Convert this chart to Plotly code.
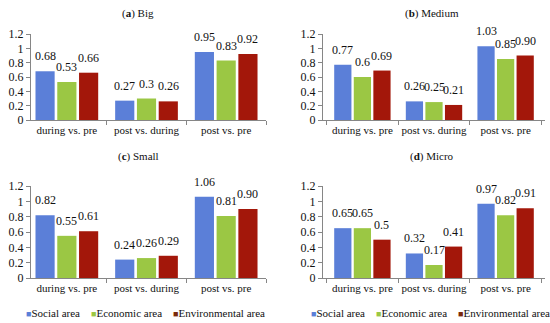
import plotly.graph_objects as go

categories = ["during vs. pre", "post vs. during", "post vs. pre"]
series_names = ["Social area", "Economic area", "Environmental area"]
panel_titles = ["(<b>a</b>) Big", "(<b>b</b>) Medium", "(<b>c</b>) Small", "(<b>d</b>) Micro"]

big_social = [0.68, 0.27, 0.95]
big_economic = [0.53, 0.30, 0.83]
big_environmental = [0.66, 0.26, 0.92]
big_labels = [["0.68", "0.27", "0.95"], ["0.53", "0.3", "0.83"], ["0.66", "0.26", "0.92"]]

medium_social = [0.77, 0.26, 1.03]
medium_economic = [0.60, 0.25, 0.85]
medium_environmental = [0.69, 0.21, 0.90]
medium_labels = [["0.77", "0.26", "1.03"], ["0.6", "0.25", "0.85"], ["0.69", "0.21", "0.90"]]

small_social = [0.82, 0.24, 1.06]
small_economic = [0.55, 0.26, 0.81]
small_environmental = [0.61, 0.29, 0.90]
small_labels = [["0.82", "0.24", "1.06"], ["0.55", "0.26", "0.81"], ["0.61", "0.29", "0.90"]]

micro_social = [0.65, 0.32, 0.97]
micro_economic = [0.65, 0.17, 0.82]
micro_environmental = [0.50, 0.41, 0.91]
micro_labels = [["0.65", "0.32", "0.97"], ["0.65", "0.17", "0.82"], ["0.5", "0.41", "0.91"]]

colors = ["#5B7FD8", "#9BC744", "#A3170A"]
legend_colors = ["#5B7FD8", "#9BC744", "#7B2A0C"]

panels = [
    (big_social, big_economic, big_environmental, big_labels),
    (medium_social, medium_economic, medium_environmental, medium_labels),
    (small_social, small_economic, small_environmental, small_labels),
    (micro_social, micro_economic, micro_environmental, micro_labels),
]

W, H = 550, 323
SERIF = "Liberation Serif, Times New Roman, serif"
BARGAP = 0.18

fig = go.Figure()

# pixel layout of each panel: (x0, x1, ytop, ybottom, xrange)
boxes = [
    (31, 266, 34, 120, [-0.45, 2.5]),
    (323, 545, 34, 120, [-0.55, 2.55]),
    (31, 266, 186, 278, [-0.45, 2.5]),
    (323, 545, 186, 278, [-0.55, 2.55]),
]
title_pos = [(138, 13), (432, 13), (138, 156), (432, 156)]
slot = (1 - BARGAP) / 3

for i, (soc, eco, env, labels) in enumerate(panels):
    xa = "x" if i == 0 else f"x{i+1}"
    ya = "y" if i == 0 else f"y{i+1}"
    for s, (vals, name) in enumerate(zip([soc, eco, env], series_names)):
        fig.add_trace(go.Bar(
            x=categories, y=vals, name=name,
            marker=dict(color=colors[s], line=dict(width=0)),
            xaxis=xa, yaxis=ya, showlegend=False,
        ))
        # value labels above each bar
        for c, (v, t) in enumerate(zip(vals, labels[s])):
            fig.add_annotation(text=t, x=c + (s - 1) * slot, y=v, xref=xa, yref=ya,
                               showarrow=False, yanchor="bottom", xanchor="center", yshift=6,
                               font=dict(family=SERIF, size=12, color="#111"))
    x0, x1, yt, yb, xr = boxes[i]
    axkey = "xaxis" if i == 0 else f"xaxis{i+1}"
    aykey = "yaxis" if i == 0 else f"yaxis{i+1}"
    fig.update_layout(**{
        axkey: dict(domain=[x0 / W, x1 / W], anchor=ya, type="category",
                    range=xr, showline=True, linecolor="#868686", linewidth=1,
                    ticks="outside", tickson="boundaries", ticklen=4, tickcolor="#868686",
                    tickangle=0, automargin=False,
                    tickfont=dict(family=SERIF, size=11, color="#111"),
                    showgrid=False, zeroline=False, fixedrange=True),
        aykey: dict(domain=[1 - yb / H, 1 - yt / H], anchor=xa, range=[0, 1.2],
                    dtick=0.2, tick0=0, showline=True, linecolor="#868686", linewidth=1,
                    ticks="outside", ticklen=4, tickcolor="#868686", automargin=False,
                    tickfont=dict(family=SERIF, size=12, color="#111"),
                    showgrid=False, zeroline=False, fixedrange=True),
    })
    tx, ty = title_pos[i]
    fig.add_annotation(text=panel_titles[i], x=tx / W, y=1 - ty / H, xref="paper", yref="paper",
                       showarrow=False, font=dict(family=SERIF, size=11, color="#111"),
                       xanchor="center", yanchor="middle")

# legends drawn as text rows below the bottom panels
legend_text = "&nbsp;&nbsp;&nbsp;&nbsp;".join(
    f"<span style='color:{c};font-size:9px'>■</span>{n}" for c, n in zip(legend_colors, series_names)
)
for lx in (145, 430):
    fig.add_annotation(text=legend_text, x=lx / W, y=1 - 313 / H, xref="paper", yref="paper",
                       showarrow=False, font=dict(family=SERIF, size=11, color="#111"),
                       xanchor="center", yanchor="middle")

fig.update_layout(
    width=W, height=H, margin=dict(l=0, r=0, t=0, b=0),
    paper_bgcolor="white", plot_bgcolor="white", showlegend=False,
    barmode="group", bargap=BARGAP, bargroupgap=0.12,
)

fig.write_html("out.html", config={"displayModeBar": False},
               post_script="document.body.style.margin='0px';document.body.style.overflow='hidden';")
